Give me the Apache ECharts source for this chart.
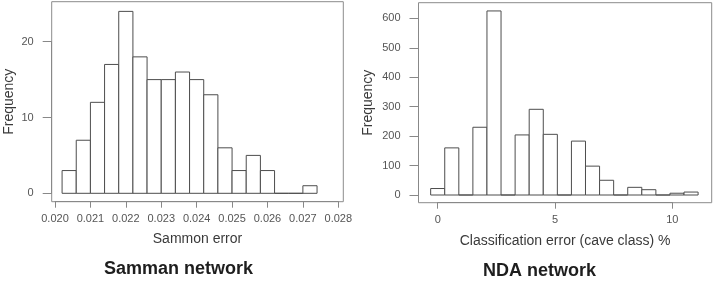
<!DOCTYPE html>
<html>
<head>
<meta charset="utf-8">
<script src="https://cdn.jsdelivr.net/npm/echarts@6/dist/echarts.min.js"></script>
<style>
  html, body { margin: 0; padding: 0; background: #fff; }
  #chart { width: 718px; height: 287px; }
</style>
</head>
<body>
<div id="chart"></div>
<script>
// Sammon network histogram: bin breaks and counts
const sammonBreaks = [0.0202, 0.0206, 0.0210, 0.0214, 0.0218, 0.0222, 0.0226, 0.0230, 0.0234, 0.0238,
  0.0242, 0.0246, 0.0250, 0.0254, 0.0258, 0.0262, 0.0266, 0.0270, 0.0274]
const sammonCounts = [3, 7, 12, 17, 24, 18, 15, 15, 16, 15, 13, 6, 3, 5, 3, 0, 0, 1]
const sammonTicksX = [0.020, 0.028, 0.001]   // min, max, step
const sammonTicksY = [0, 20, 10]

// NDA network histogram
const ndaBreaks = [-0.3, 0.3, 0.9, 1.5, 2.1, 2.7, 3.3, 3.9, 4.5, 5.1, 5.7, 6.3, 6.9, 7.5, 8.1, 8.7,
  9.3, 9.9, 10.5, 11.1]
const ndaCounts = [22, 160, 0, 230, 625, 0, 204, 291, 206, 0, 183, 98, 50, 0, 26, 18, 0, 6, 10]
const ndaTicksX = [0, 10, 5]
const ndaTicksY = [0, 600, 100]

const FONT = 'Liberation Sans, Arial, sans-serif'
const labelColor = '#555'
const lineColor = '#888'

const toRows = (breaks, counts) => counts.map((c, i) => [breaks[i], breaks[i + 1], c])

// draws one R-style histogram bar (white fill, grey outline)
const renderBin = (params, api) => {
  const p0 = api.coord([api.value(0), 0])
  const p1 = api.coord([api.value(1), api.value(2)])
  return {
    type: 'rect',
    shape: { x: p0[0], y: p1[1], width: p1[0] - p0[0], height: p0[1] - p1[1] },
    style: { fill: '#fff', stroke: '#4d4d4d', lineWidth: 1 }
  }
}

const tickAxisX = (gridIndex, t, offset, fmt) => ({
  type: 'value', gridIndex, min: t[0], max: t[1], interval: t[2], offset,
  axisLine: { show: true, onZero: false, lineStyle: { color: lineColor } },
  axisTick: { show: true, inside: false, length: 6, lineStyle: { color: lineColor } },
  axisLabel: { color: labelColor, fontSize: 11, fontFamily: FONT, margin: 12, formatter: fmt },
  splitLine: { show: false }
})
const tickAxisY = (gridIndex, t, offset) => ({
  type: 'value', gridIndex, min: t[0], max: t[1], interval: t[2], offset,
  axisLine: { show: true, onZero: false, lineStyle: { color: lineColor } },
  axisTick: { show: true, inside: false, length: 9, lineStyle: { color: lineColor } },
  axisLabel: { color: labelColor, fontSize: 11, fontFamily: FONT, margin: 18 },
  splitLine: { show: false }
})
// frame axes only carry the axis names, centred on the plot box like R does
const nameAxis = (gridIndex, name, gap) => ({
  type: 'value', gridIndex, min: 0, max: 1,
  name, nameLocation: 'middle', nameGap: gap,
  nameTextStyle: { color: '#3a3a3a', fontSize: 14, fontFamily: FONT },
  axisLine: { show: false, onZero: false }, axisTick: { show: false }, axisLabel: { show: false },
  splitLine: { show: false }
})

const chart = echarts.init(document.getElementById('chart'), null, { renderer: 'canvas' })
chart.setOption({
  backgroundColor: '#fff',
  animation: false,
  title: [
    { text: 'Samman network', left: 104, top: 260, padding: 0,
      textStyle: { fontSize: 18, fontWeight: 'bold', color: '#1e1e1e', fontFamily: FONT } },
    { text: 'NDA network', left: 483, top: 262, padding: 0,
      textStyle: { fontSize: 18, fontWeight: 'bold', color: '#1e1e1e', fontFamily: FONT } }
  ],
  grid: [
    { left: 55, top: 41.7, width: 283.3, height: 151.6 },
    { left: 51.7, top: 1.7, width: 291.6, height: 200, show: true, borderColor: '#8c8c8c', borderWidth: 1 },
    { left: 437.7, top: 18.3, width: 234.6, height: 176.7 },
    { left: 418.5, top: 2.7, width: 293.2, height: 200, show: true, borderColor: '#8c8c8c', borderWidth: 1 }
  ],
  xAxis: [
    tickAxisX(0, sammonTicksX, 8.4, v => v.toFixed(3)),
    nameAxis(1, 'Sammon error', 30),
    tickAxisX(2, ndaTicksX, 7.7, v => String(v)),
    nameAxis(3, 'Classification error (cave class) %', 31)
  ],
  yAxis: [
    tickAxisY(0, sammonTicksY, 3.3),
    nameAxis(1, 'Frequency', 36),
    tickAxisY(2, ndaTicksY, 19.2),
    nameAxis(3, 'Frequency', 43)
  ],
  series: [
    { type: 'custom', xAxisIndex: 0, yAxisIndex: 0, renderItem: renderBin,
      encode: { x: [0, 1], y: 2 }, data: toRows(sammonBreaks, sammonCounts) },
    { type: 'custom', xAxisIndex: 2, yAxisIndex: 2, renderItem: renderBin,
      encode: { x: [0, 1], y: 2 }, data: toRows(ndaBreaks, ndaCounts) }
  ]
})
</script>
</body>
</html>
